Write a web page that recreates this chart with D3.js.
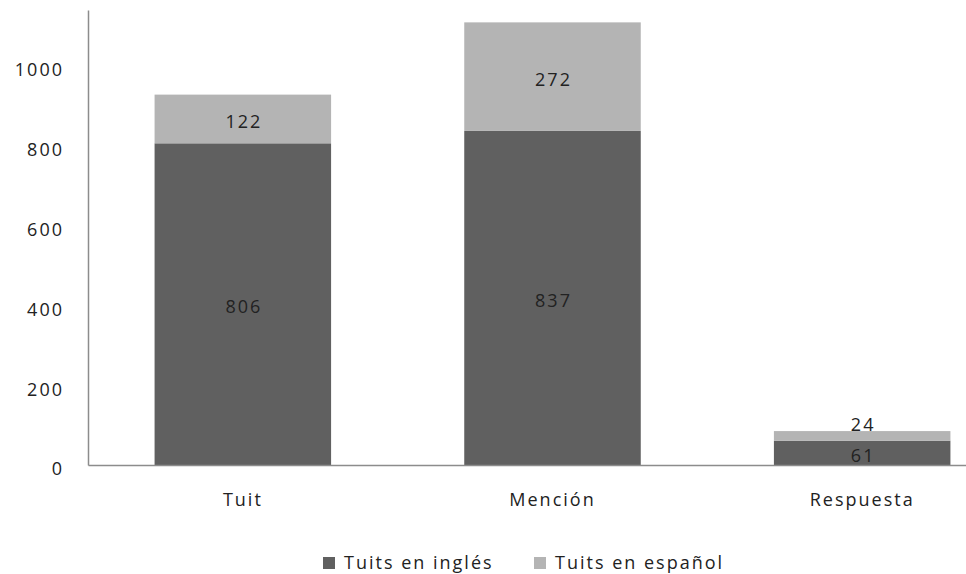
<!DOCTYPE html>
<html><head><meta charset="utf-8">
<script src="https://cdn.jsdelivr.net/npm/d3@7"></script>
<style>body{margin:0;background:#fff}text{font-family:"Open Sans",sans-serif;fill:#222;letter-spacing:2px}</style>
</head><body><svg id="c" width="966" height="574"></svg>
<script>
const categories = ["Tuit", "Mención", "Respuesta"];
const seriesNames = ["Tuits en inglés", "Tuits en español"];
const english = [806, 837, 61];
const spanish = [122, 272, 24];
const yTicks = [0, 200, 400, 600, 800, 1000];
const colors = ["#606060", "#b4b4b4"];

const FS = 18;
const svg = d3.select("#c");
const x = d3.scaleBand().domain(categories).range([88, 1017]).paddingInner(0.43).paddingOuter(0.215);
const y = d3.scaleLinear().domain([0, 1140]).range([465, 10]);

const data = categories.map((c, i) => ({cat: c, english: english[i], spanish: spanish[i]}));
const stack = d3.stack().keys(["english", "spanish"])(data);

stack.forEach((layer, li) => {
  svg.append("g").selectAll("rect").data(layer).join("rect")
    .attr("x", d => x(d.data.cat)).attr("width", x.bandwidth())
    .attr("y", d => y(d[1])).attr("height", d => y(d[0]) - y(d[1]))
    .attr("fill", colors[li]);
});
stack.forEach((layer, li) => {
  svg.append("g").selectAll("text").data(layer).join("text")
    .attr("x", d => x(d.data.cat) + x.bandwidth() / 2 + 1)
    .attr("y", d => {
      const h = y(d[0]) - y(d[1]);
      return h < 16 ? y(d[1]) - 7 : (y(d[0]) + y(d[1])) / 2 + 2;
    })
    .attr("text-anchor", "middle").attr("dominant-baseline", "central")
    .attr("font-size", FS)
    .text(d => d[1] - d[0]);
});

// axes
const yAxis = svg.append("g").attr("transform", "translate(88,0)")
  .call(d3.axisLeft(y).tickValues(yTicks).tickFormat(d3.format("d")).tickSize(0).tickPadding(24));
yAxis.select(".domain").attr("stroke", "#8c8c8c").attr("stroke-width", 1.5);
yAxis.selectAll("text").attr("font-size", FS).attr("dy", "0.55em").style("font-family", "'Open Sans',sans-serif").attr("fill", "#222");

const xAxis = svg.append("g").attr("transform", "translate(0,465)")
  .call(d3.axisBottom(x).tickSize(0).tickPadding(28));
xAxis.select(".domain").attr("stroke", "#8c8c8c").attr("stroke-width", 1.5);
xAxis.selectAll("text").attr("font-size", FS).style("font-family", "'Open Sans',sans-serif").attr("fill", "#222");

// legend
const leg = svg.append("g");
const legX = [323, 534];
seriesNames.forEach((n, i) => {
  leg.append("rect").attr("x", legX[i]).attr("y", 557).attr("width", 12).attr("height", 12).attr("fill", colors[i]);
  leg.append("text").attr("x", legX[i] + 21).attr("y", 569).attr("font-size", FS).text(n);
});
</script></body></html>
